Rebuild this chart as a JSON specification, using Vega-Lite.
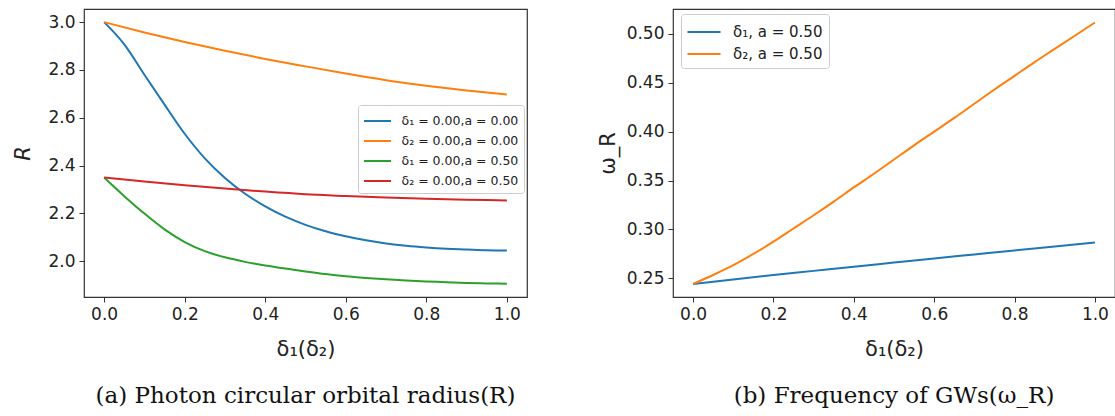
{
  "$schema": "https://vega.github.io/schema/vega-lite/v6.json",
  "padding": {"left": 12, "top": 8, "right": 0, "bottom": 0},
  "background": "white",
  "bounds": "flush",
  "spacing": 146,
  "config": {
    "view": {"stroke": "#333", "strokeWidth": 1.2},
    "axis": {"grid": false, "domain": false, "tickColor": "#333", "tickSize": 5, "labelFont": "DejaVu Sans", "labelFontSize": 17, "labelColor": "#222", "titleFont": "DejaVu Sans", "titleFontSize": 21, "titleFontWeight": "normal", "titleColor": "#222", "labelPadding": 4},
    "legend": {"labelFont": "DejaVu Sans", "labelColor": "#222", "symbolStrokeWidth": 2, "strokeColor": "#ccc", "fillColor": "white", "cornerRadius": 3}
  },
  "resolve": {"scale": {"color": "independent"}, "legend": {"color": "independent"}},
  "datasets": {
    "left": [
      {"series": "δ₁ = 0.00,a = 0.00", "x": 0.00, "R": 3.000},
      {"series": "δ₁ = 0.00,a = 0.00", "x": 0.05, "R": 2.907},
      {"series": "δ₁ = 0.00,a = 0.00", "x": 0.10, "R": 2.780},
      {"series": "δ₁ = 0.00,a = 0.00", "x": 0.15, "R": 2.655},
      {"series": "δ₁ = 0.00,a = 0.00", "x": 0.20, "R": 2.533},
      {"series": "δ₁ = 0.00,a = 0.00", "x": 0.25, "R": 2.430},
      {"series": "δ₁ = 0.00,a = 0.00", "x": 0.30, "R": 2.348},
      {"series": "δ₁ = 0.00,a = 0.00", "x": 0.35, "R": 2.282},
      {"series": "δ₁ = 0.00,a = 0.00", "x": 0.40, "R": 2.229},
      {"series": "δ₁ = 0.00,a = 0.00", "x": 0.45, "R": 2.186},
      {"series": "δ₁ = 0.00,a = 0.00", "x": 0.50, "R": 2.152},
      {"series": "δ₁ = 0.00,a = 0.00", "x": 0.55, "R": 2.125},
      {"series": "δ₁ = 0.00,a = 0.00", "x": 0.60, "R": 2.104},
      {"series": "δ₁ = 0.00,a = 0.00", "x": 0.65, "R": 2.087},
      {"series": "δ₁ = 0.00,a = 0.00", "x": 0.70, "R": 2.074},
      {"series": "δ₁ = 0.00,a = 0.00", "x": 0.75, "R": 2.064},
      {"series": "δ₁ = 0.00,a = 0.00", "x": 0.80, "R": 2.057},
      {"series": "δ₁ = 0.00,a = 0.00", "x": 0.85, "R": 2.052},
      {"series": "δ₁ = 0.00,a = 0.00", "x": 0.90, "R": 2.049},
      {"series": "δ₁ = 0.00,a = 0.00", "x": 0.95, "R": 2.046},
      {"series": "δ₁ = 0.00,a = 0.00", "x": 1.00, "R": 2.045},
      {"series": "δ₂ = 0.00,a = 0.00", "x": 0.0, "R": 3.000},
      {"series": "δ₂ = 0.00,a = 0.00", "x": 0.1, "R": 2.957},
      {"series": "δ₂ = 0.00,a = 0.00", "x": 0.2, "R": 2.917},
      {"series": "δ₂ = 0.00,a = 0.00", "x": 0.3, "R": 2.880},
      {"series": "δ₂ = 0.00,a = 0.00", "x": 0.4, "R": 2.846},
      {"series": "δ₂ = 0.00,a = 0.00", "x": 0.5, "R": 2.815},
      {"series": "δ₂ = 0.00,a = 0.00", "x": 0.6, "R": 2.785},
      {"series": "δ₂ = 0.00,a = 0.00", "x": 0.7, "R": 2.757},
      {"series": "δ₂ = 0.00,a = 0.00", "x": 0.8, "R": 2.734},
      {"series": "δ₂ = 0.00,a = 0.00", "x": 0.9, "R": 2.714},
      {"series": "δ₂ = 0.00,a = 0.00", "x": 1.0, "R": 2.697},
      {"series": "δ₁ = 0.00,a = 0.50", "x": 0.00, "R": 2.350},
      {"series": "δ₁ = 0.00,a = 0.50", "x": 0.05, "R": 2.272},
      {"series": "δ₁ = 0.00,a = 0.50", "x": 0.10, "R": 2.199},
      {"series": "δ₁ = 0.00,a = 0.50", "x": 0.15, "R": 2.133},
      {"series": "δ₁ = 0.00,a = 0.50", "x": 0.20, "R": 2.080},
      {"series": "δ₁ = 0.00,a = 0.50", "x": 0.25, "R": 2.042},
      {"series": "δ₁ = 0.00,a = 0.50", "x": 0.30, "R": 2.016},
      {"series": "δ₁ = 0.00,a = 0.50", "x": 0.35, "R": 1.997},
      {"series": "δ₁ = 0.00,a = 0.50", "x": 0.40, "R": 1.982},
      {"series": "δ₁ = 0.00,a = 0.50", "x": 0.45, "R": 1.969},
      {"series": "δ₁ = 0.00,a = 0.50", "x": 0.50, "R": 1.957},
      {"series": "δ₁ = 0.00,a = 0.50", "x": 0.55, "R": 1.946},
      {"series": "δ₁ = 0.00,a = 0.50", "x": 0.60, "R": 1.937},
      {"series": "δ₁ = 0.00,a = 0.50", "x": 0.65, "R": 1.930},
      {"series": "δ₁ = 0.00,a = 0.50", "x": 0.70, "R": 1.924},
      {"series": "δ₁ = 0.00,a = 0.50", "x": 0.75, "R": 1.919},
      {"series": "δ₁ = 0.00,a = 0.50", "x": 0.80, "R": 1.915},
      {"series": "δ₁ = 0.00,a = 0.50", "x": 0.85, "R": 1.912},
      {"series": "δ₁ = 0.00,a = 0.50", "x": 0.90, "R": 1.909},
      {"series": "δ₁ = 0.00,a = 0.50", "x": 0.95, "R": 1.907},
      {"series": "δ₁ = 0.00,a = 0.50", "x": 1.00, "R": 1.905},
      {"series": "δ₂ = 0.00,a = 0.50", "x": 0.0, "R": 2.350},
      {"series": "δ₂ = 0.00,a = 0.50", "x": 0.1, "R": 2.333},
      {"series": "δ₂ = 0.00,a = 0.50", "x": 0.2, "R": 2.318},
      {"series": "δ₂ = 0.00,a = 0.50", "x": 0.3, "R": 2.304},
      {"series": "δ₂ = 0.00,a = 0.50", "x": 0.4, "R": 2.291},
      {"series": "δ₂ = 0.00,a = 0.50", "x": 0.5, "R": 2.280},
      {"series": "δ₂ = 0.00,a = 0.50", "x": 0.6, "R": 2.273},
      {"series": "δ₂ = 0.00,a = 0.50", "x": 0.7, "R": 2.266},
      {"series": "δ₂ = 0.00,a = 0.50", "x": 0.8, "R": 2.261},
      {"series": "δ₂ = 0.00,a = 0.50", "x": 0.9, "R": 2.257},
      {"series": "δ₂ = 0.00,a = 0.50", "x": 1.0, "R": 2.254}
    ],
    "right": [
      {"series": "δ₁, a = 0.50", "x": 0.0, "w": 0.2444},
      {"series": "δ₁, a = 0.50", "x": 0.1, "w": 0.2490},
      {"series": "δ₁, a = 0.50", "x": 0.2, "w": 0.2534},
      {"series": "δ₁, a = 0.50", "x": 0.3, "w": 0.2577},
      {"series": "δ₁, a = 0.50", "x": 0.4, "w": 0.2620},
      {"series": "δ₁, a = 0.50", "x": 0.5, "w": 0.2662},
      {"series": "δ₁, a = 0.50", "x": 0.6, "w": 0.2704},
      {"series": "δ₁, a = 0.50", "x": 0.7, "w": 0.2745},
      {"series": "δ₁, a = 0.50", "x": 0.8, "w": 0.2786},
      {"series": "δ₁, a = 0.50", "x": 0.9, "w": 0.2826},
      {"series": "δ₁, a = 0.50", "x": 1.0, "w": 0.2866},
      {"series": "δ₂, a = 0.50", "x": 0.00, "w": 0.2444},
      {"series": "δ₂, a = 0.50", "x": 0.05, "w": 0.2535},
      {"series": "δ₂, a = 0.50", "x": 0.10, "w": 0.2635},
      {"series": "δ₂, a = 0.50", "x": 0.15, "w": 0.2750},
      {"series": "δ₂, a = 0.50", "x": 0.20, "w": 0.2875},
      {"series": "δ₂, a = 0.50", "x": 0.25, "w": 0.3010},
      {"series": "δ₂, a = 0.50", "x": 0.30, "w": 0.3145},
      {"series": "δ₂, a = 0.50", "x": 0.35, "w": 0.3285},
      {"series": "δ₂, a = 0.50", "x": 0.40, "w": 0.3430},
      {"series": "δ₂, a = 0.50", "x": 0.45, "w": 0.3570},
      {"series": "δ₂, a = 0.50", "x": 0.50, "w": 0.3715},
      {"series": "δ₂, a = 0.50", "x": 0.55, "w": 0.3860},
      {"series": "δ₂, a = 0.50", "x": 0.60, "w": 0.4000},
      {"series": "δ₂, a = 0.50", "x": 0.65, "w": 0.4140},
      {"series": "δ₂, a = 0.50", "x": 0.70, "w": 0.4285},
      {"series": "δ₂, a = 0.50", "x": 0.75, "w": 0.4430},
      {"series": "δ₂, a = 0.50", "x": 0.80, "w": 0.4570},
      {"series": "δ₂, a = 0.50", "x": 0.85, "w": 0.4710},
      {"series": "δ₂, a = 0.50", "x": 0.90, "w": 0.4845},
      {"series": "δ₂, a = 0.50", "x": 0.95, "w": 0.4980},
      {"series": "δ₂, a = 0.50", "x": 1.00, "w": 0.5115}
    ]
  },
  "hconcat": [
    {
      "width": 443,
      "height": 288,
      "title": {"text": "(a) Photon circular orbital radius(R)", "orient": "bottom", "anchor": "middle", "font": "DejaVu Serif", "fontSize": 23, "fontWeight": "normal", "color": "#111", "offset": 26},
      "data": {"name": "left"},
      "mark": {"type": "line", "strokeWidth": 2, "interpolate": "monotone"},
      "encoding": {
        "x": {"field": "x", "type": "quantitative", "scale": {"domain": [-0.05, 1.05], "nice": false, "zero": false}, "axis": {"values": [0, 0.2, 0.4, 0.6, 0.8, 1.0], "format": ".1f", "title": "δ₁(δ₂)", "titlePadding": 16}},
        "y": {"field": "R", "type": "quantitative", "scale": {"domain": [1.85, 3.055], "nice": false, "zero": false}, "axis": {"values": [2.0, 2.2, 2.4, 2.6, 2.8, 3.0], "format": ".1f", "title": "R", "titleFontStyle": "italic", "titlePadding": 14}},
        "color": {"field": "series", "type": "nominal", "sort": null,
          "scale": {"domain": ["δ₁ = 0.00,a = 0.00", "δ₂ = 0.00,a = 0.00", "δ₁ = 0.00,a = 0.50", "δ₂ = 0.00,a = 0.50"], "range": ["#1f77b4", "#ff7f0e", "#2ca02c", "#d62728"]},
          "legend": {"orient": "none", "legendX": 274, "legendY": 96, "title": null, "symbolType": "M-1.35,0H1.35", "symbolSize": 400, "symbolOffset": 3.5, "labelFontSize": 12.5, "padding": 5, "labelOffset": 13}}
      }
    },
    {
      "width": 442,
      "height": 288,
      "title": {"text": "(b) Frequency of GWs(ω_R)", "orient": "bottom", "anchor": "middle", "font": "DejaVu Serif", "fontSize": 23, "fontWeight": "normal", "color": "#111", "offset": 26},
      "data": {"name": "right"},
      "mark": {"type": "line", "strokeWidth": 2, "interpolate": "monotone"},
      "encoding": {
        "x": {"field": "x", "type": "quantitative", "scale": {"domain": [-0.05, 1.05], "nice": false, "zero": false}, "axis": {"values": [0, 0.2, 0.4, 0.6, 0.8, 1.0], "format": ".1f", "title": "δ₁(δ₂)", "titlePadding": 16}},
        "y": {"field": "w", "type": "quantitative", "scale": {"domain": [0.231, 0.5253], "nice": false, "zero": false}, "axis": {"values": [0.25, 0.30, 0.35, 0.40, 0.45, 0.50], "format": ".2f", "title": "ω_R", "titlePadding": 8}},
        "color": {"field": "series", "type": "nominal", "sort": null,
          "scale": {"domain": ["δ₁, a = 0.50", "δ₂, a = 0.50"], "range": ["#1f77b4", "#ff7f0e"]},
          "legend": {"orient": "none", "legendX": 8, "legendY": 5, "title": null, "symbolType": "M-1.5,0H1.5", "symbolSize": 484, "symbolOffset": 5, "labelFontSize": 15, "padding": 6, "labelOffset": 17}}
      }
    }
  ]
}
